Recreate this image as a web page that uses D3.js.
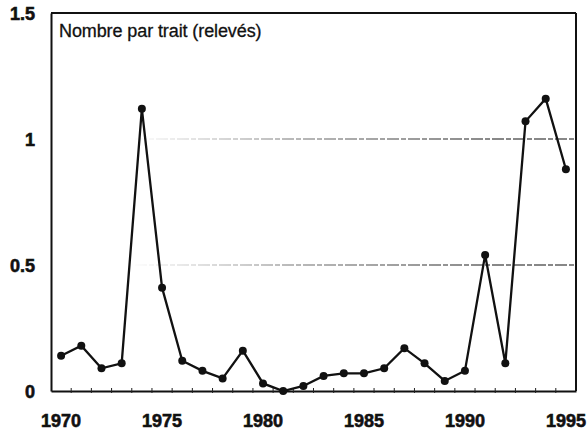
<!DOCTYPE html>
<html>
<head>
<meta charset="utf-8">
<script src="https://cdn.jsdelivr.net/npm/d3@7"></script>
<style>
  body { margin: 0; background: #fff; }
  svg { display: block; font-family: "Liberation Sans", Arial, sans-serif; }
</style>
</head>
<body>
<div id="chart"></div>
<script>
// data
var years = d3.range(1970, 1996);
var values = [0.14, 0.18, 0.09, 0.11, 1.12, 0.41, 0.12, 0.08, 0.05, 0.16,
              0.03, 0.00, 0.02, 0.06, 0.07, 0.07, 0.09, 0.17, 0.11, 0.04,
              0.08, 0.54, 0.11, 1.07, 1.16, 0.88];
var yTicks = [0, 0.5, 1, 1.5];
var xLabels = [1970, 1975, 1980, 1985, 1990, 1995];
var gridValues = [0.5, 1];
var title = "Nombre par trait (relevés)";

var svgWidth = 587;
var svgHeight = 430;
var margin = { top: 13, right: 11, bottom: 39, left: 51 };
var width = svgWidth - margin.left - margin.right;
var height = svgHeight - margin.top - margin.bottom;

var svg = d3.select("#chart")
  .append("svg")
  .attr("width", svgWidth)
  .attr("height", svgHeight);

// faded gridlines like the photocopy
var defs = svg.append("defs");
var grad = defs.append("linearGradient")
  .attr("id", "fade")
  .attr("gradientUnits", "userSpaceOnUse")
  .attr("x1", 0).attr("x2", width).attr("y1", 0).attr("y2", 0);
grad.append("stop").attr("offset", "0.15").attr("stop-color", "#fff");
grad.append("stop").attr("offset", "0.45").attr("stop-color", "#777");
grad.append("stop").attr("offset", "0.85").attr("stop-color", "#111");

var chartGroup = svg.append("g")
  .attr("transform", `translate(${margin.left}, ${margin.top})`);

var xScale = d3.scaleBand()
  .domain(years)
  .range([0, width]);

var yScale = d3.scaleLinear()
  .domain([0, 1.5])
  .range([height, 0]);

// gridlines
chartGroup.selectAll(".grid")
  .data(gridValues)
  .enter()
  .append("line")
  .attr("class", "grid")
  .attr("x1", 0)
  .attr("x2", width)
  .attr("y1", d => yScale(d))
  .attr("y2", d => yScale(d))
  .attr("stroke", "url(#fade)")
  .attr("stroke-width", 1.2)
  .attr("stroke-dasharray", "12,2,5,2");

// frame top + right
chartGroup.append("line")
  .attr("x1", 0).attr("x2", width)
  .attr("y1", 0).attr("y2", 0)
  .attr("stroke", "#111").attr("stroke-width", 2);
chartGroup.append("line")
  .attr("x1", width).attr("x2", width)
  .attr("y1", 0).attr("y2", height)
  .attr("stroke", "#111").attr("stroke-width", 2);

// bottom axis: ticks on band edges, labels every 5 years
var bottomAxis = d3.axisBottom(xScale).tickSize(0).tickFormat("");
var xAxisG = chartGroup.append("g")
  .attr("transform", `translate(0, ${height})`)
  .call(bottomAxis);
xAxisG.select(".domain").attr("stroke", "#111").attr("stroke-width", 2);

chartGroup.selectAll(".xtick")
  .data(years.slice(1))
  .enter()
  .append("line")
  .attr("class", "xtick")
  .attr("x1", d => xScale(d))
  .attr("x2", d => xScale(d))
  .attr("y1", height - 3)
  .attr("y2", height + 2)
  .attr("stroke", "#222")
  .attr("stroke-width", 1);

chartGroup.selectAll(".xlabel")
  .data(xLabels)
  .enter()
  .append("text")
  .attr("class", "xlabel")
  .attr("x", d => xScale(d) + xScale.bandwidth() / 2)
  .attr("y", height + 36)
  .attr("text-anchor", "middle")
  .attr("font-size", 18)
  .attr("font-weight", "bold")
  .attr("fill", "#111")
  .attr("stroke", "#111")
  .attr("stroke-width", 0.6)
  .text(d => d);

// left axis
var leftAxis = d3.axisLeft(yScale).tickValues(yTicks).tickSize(0).tickPadding(0).tickFormat(d => d);
var yAxisG = chartGroup.append("g").call(leftAxis);
yAxisG.select(".domain").attr("stroke", "#111").attr("stroke-width", 2);
yAxisG.selectAll("text")
  .attr("x", -16)
  .attr("dy", "0.36em")
  .attr("font-size", 18)
  .attr("font-weight", "bold")
  .attr("font-family", "Liberation Sans, Arial, sans-serif")
  .attr("fill", "#111")
  .attr("stroke", "#111")
  .attr("stroke-width", 0.6);

// title inside the frame
chartGroup.append("text")
  .attr("x", 8)
  .attr("y", 24)
  .attr("font-size", 18)
  .attr("letter-spacing", -0.1)
  .attr("fill", "#111")
  .attr("stroke", "#111")
  .attr("stroke-width", 0.3)
  .text(title);

// series
var points = years.map((y, i) => ({ year: y, value: values[i] }));
var line = d3.line()
  .x(d => xScale(d.year) + xScale.bandwidth() / 2)
  .y(d => yScale(d.value));

chartGroup.append("path")
  .datum(points)
  .attr("d", line)
  .attr("fill", "none")
  .attr("stroke", "#111")
  .attr("stroke-width", 2.3);

chartGroup.selectAll("circle")
  .data(points)
  .enter()
  .append("circle")
  .attr("cx", d => xScale(d.year) + xScale.bandwidth() / 2)
  .attr("cy", d => yScale(d.value))
  .attr("r", 4)
  .attr("fill", "#111");
</script>
</body>
</html>
